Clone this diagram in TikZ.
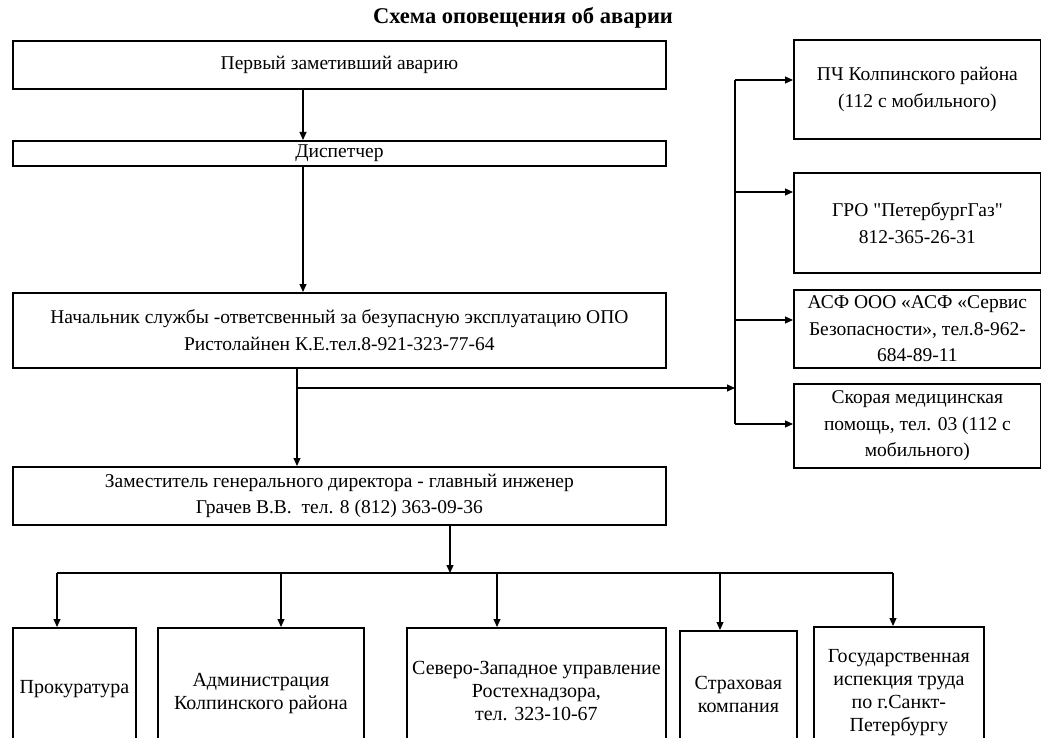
\documentclass[tikz,border=0pt]{standalone}
\usepackage{fontspec}
\setmainfont{Liberation Serif}
\newfontfamily\qfont{Liberation Serif}[Ligatures=TeXOff]
\usetikzlibrary{arrows.meta}
\newcommand\upl[2]{\raisebox{#1}{\begin{tabular}{@{}c@{}}#2\end{tabular}}}
\begin{document}
\begin{tikzpicture}[x=1pt,y=-1pt,
  box/.style={draw, line width=1.8pt, inner sep=0pt, anchor=north west, align=center,
    font=\fontsize{19.5}{26.5}\selectfont},
  rbox/.style={box, minimum width=247pt, font=\fontsize{19.5}{26.5}\selectfont},
  bbox/.style={box, minimum height=130pt, font=\fontsize{20}{23}\selectfont},
  conn/.style={line width=1.1pt},
  arr/.style={conn, -{Triangle[length=8pt,width=7pt]}}]
\useasboundingbox (0,0) rectangle (1041,738);
\fill[white] (0,0) rectangle (1041,738);
\node[font=\bfseries\fontsize{22.5}{26}\selectfont] (title) at (523,18) {Схема оповещения об аварии};
% left column
\node[box, minimum width=653pt, minimum height=48pt] (b1) at (12,40) {Первый заметивший аварию};
\node[box, minimum width=653pt, minimum height=25pt] (b2) at (12,140) {Диспетчер};
\node[box, minimum width=653pt, minimum height=75pt] (b3) at (12,292)
  {Начальник службы -ответсвенный за безупасную эксплуатацию ОПО\\Ристолайнен К.Е.тел.8-921-323-77-64};
\node[box, minimum width=653pt, minimum height=58pt] (b4) at (12,466)
  {Заместитель генерального директора - главный инженер\\Грачев В.В.\ \ тел. 8 (812) 363-09-36};
% right column
\node[rbox, minimum height=99pt] (r1) at (793,39) {ПЧ Колпинского района\\(112 с мобильного)};
\node[rbox, minimum height=100pt] (r2) at (793,172) {ГРО {\qfont"}ПетербургГаз{\qfont"}\\812-365-26-31};
\node[rbox, minimum height=78pt] (r3) at (793,289) {АСФ ООО «АСФ «Сервис\\Безопасности», тел.8-962-\\684-89-11};
\node[rbox, minimum height=84pt] (r4) at (793,383) {Скорая медицинская\\помощь, тел. 03 (112 с\\мобильного)};
% bottom row
\node[bbox, minimum width=123pt] (p1) at (12,627) {\upl{15pt}{Прокуратура}};
\node[bbox, minimum width=206pt] (p2) at (157,627) {\upl{17pt}{Администрация\\Колпинского района}};
\node[bbox, minimum width=259pt] (p3) at (406,627) {\upl{14pt}{Северо-Западное управление\\Ростехнадзора,\\тел. 323-10-67}};
\node[bbox, minimum width=117pt] (p4) at (679,630) {\upl{9pt}{Страховая\\компания}};
\node[bbox, minimum width=170pt] (p5) at (813,626) {\upl{5pt}{Государственная\\испекция труда\\по г.Санкт-\\Петербургу}};
% junction coordinates
\coordinate (a12) at (303,0);
\coordinate (k3) at (297,388);
\coordinate (rb) at (735,388);
\coordinate (s1) at (735,80);
\coordinate (s2) at (735,192);
\coordinate (s3) at (735,320);
\coordinate (s4) at (735,424);
\coordinate (hb) at (450,573);
\coordinate (d1) at (57,573);
\coordinate (d2) at (281,573);
\coordinate (d3) at (497,573);
\coordinate (d4) at (720,573);
\coordinate (d5) at (893,573);
% connectors
\draw[arr] (b1.south -| a12) -- (b2.north -| a12);
\draw[arr] (b2.south -| a12) -- (b3.north -| a12);
\draw[arr] (b3.south -| k3) -- (b4.north -| k3);
\draw[arr] (k3) -- (rb);
\draw[conn] (s1) -- (s4);
\draw[arr] (s1) -- (s1 -| r1.west);
\draw[arr] (s2) -- (s2 -| r2.west);
\draw[arr] (s3) -- (s3 -| r3.west);
\draw[arr] (s4) -- (s4 -| r4.west);
\draw[arr] (b4.south -| hb) -- (hb);
\draw[conn] (d1) -- (d5);
\draw[arr] (d1) -- (d1 |- p1.north);
\draw[arr] (d2) -- (d2 |- p2.north);
\draw[arr] (d3) -- (d3 |- p3.north);
\draw[arr] (d4) -- (d4 |- p4.north);
\draw[arr] (d5) -- (d5 |- p5.north);
\end{tikzpicture}
\end{document}
